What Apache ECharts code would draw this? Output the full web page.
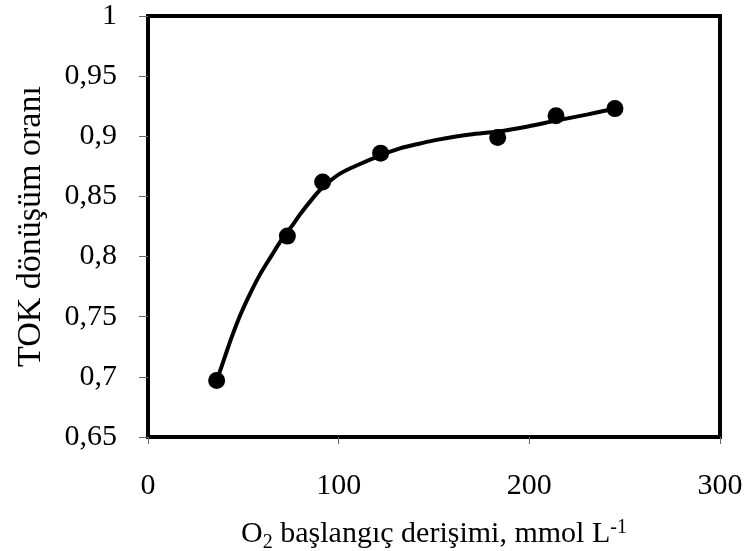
<!DOCTYPE html>
<html>
<head>
<meta charset="utf-8">
<script src="https://cdn.jsdelivr.net/npm/echarts@6/dist/echarts.min.js"></script>
<style>
  html, body { margin: 0; padding: 0; background: #fff; }
  #chart { width: 748px; height: 551px; }
</style>
</head>
<body>
<div id="chart"></div>
<script>
// Measured conversion (TOK) against initial O2 concentration
const o2Conc = [36.0, 73.1, 91.6, 122.0, 183.4, 214.0, 244.9];
const tocConversion = [0.697, 0.817, 0.862, 0.886, 0.899, 0.917, 0.923];

// Fitted trend curve through the measurements
const fitX = [36.5, 40.4, 43.9, 48.3, 53.5, 58.7, 64.9, 70.1, 76.2, 79.7, 86.7, 91.9, 100.7,
              111.2, 121.7, 132.2, 142.7, 151.4, 168.9, 183.4, 198.6, 214.0, 230.1, 244.9];
const fitY = [0.699, 0.717, 0.733, 0.751, 0.769, 0.785, 0.801, 0.814, 0.827, 0.835, 0.849, 0.858, 0.869,
              0.877, 0.884, 0.890, 0.894, 0.897, 0.9015, 0.904, 0.908, 0.913, 0.918, 0.923];

// Axis ranges and tick steps
const xRange = [0, 300], xStep = 100;
const yRange = [0.65, 1], yStep = 0.05;

const FONT = '"Liberation Serif", "Times New Roman", serif';

const chart = echarts.init(document.getElementById('chart'), null, { renderer: 'canvas' });

chart.setOption({
  animation: false,
  backgroundColor: '#fff',
  grid: {
    left: 148, right: 28, top: 16, bottom: 114,
    outerBoundsMode: 'none',
    containLabel: false,
    show: true, borderColor: '#000', borderWidth: 4, backgroundColor: 'transparent'
  },
  xAxis: {
    type: 'value',
    min: xRange[0], max: xRange[1], interval: xStep,
    axisLine: { show: true, lineStyle: { color: '#000', width: 4 } },
    axisTick: { show: true, inside: false, length: 7, lineStyle: { color: '#666', width: 1 } },
    splitLine: { show: false },
    axisLabel: { color: '#000', fontFamily: FONT, fontSize: 30, margin: 34 },
    name: '{n|O}{sub|2}{n| başlangıç derişimi, mmol L}{sup|-1}',
    nameLocation: 'middle',
    nameGap: 80,
    nameTextStyle: {
      color: '#000', fontFamily: FONT, fontSize: 30,
      rich: {
        n: { fontFamily: FONT, fontSize: 30, color: '#000', lineHeight: 34 },
        sub: { fontFamily: FONT, fontSize: 20, color: '#000', padding: [18, 0, 0, 0], lineHeight: 34 },
        sup: { fontFamily: FONT, fontSize: 20, color: '#000', padding: [0, 0, 12, 0], lineHeight: 34 }
      }
    }
  },
  yAxis: {
    type: 'value',
    min: yRange[0], max: yRange[1], interval: yStep,
    axisLine: { show: true, lineStyle: { color: '#000', width: 4 } },
    axisTick: { show: true, inside: false, length: 9, lineStyle: { color: '#666', width: 1 } },
    splitLine: { show: false },
    axisLabel: {
      color: '#000', fontFamily: FONT, fontSize: 30, margin: 31,
      formatter: v => String(+v.toFixed(2)).replace('.', ',')
    },
    name: 'TOK dönüşüm oranı',
    nameLocation: 'middle',
    nameGap: 100,
    nameTextStyle: { color: '#000', fontFamily: FONT, fontSize: 34 }
  },
  series: [
    {
      type: 'line',
      data: fitX.map((x, i) => [x, fitY[i]]),
      smooth: 0.3,
      showSymbol: false,
      lineStyle: { color: '#000', width: 4 },
      z: 2
    },
    {
      type: 'scatter',
      data: o2Conc.map((x, i) => [x, tocConversion[i]]),
      symbol: 'circle',
      symbolSize: 17,
      itemStyle: { color: '#000', opacity: 1 },
      z: 3
    }
  ]
});
</script>
</body>
</html>
